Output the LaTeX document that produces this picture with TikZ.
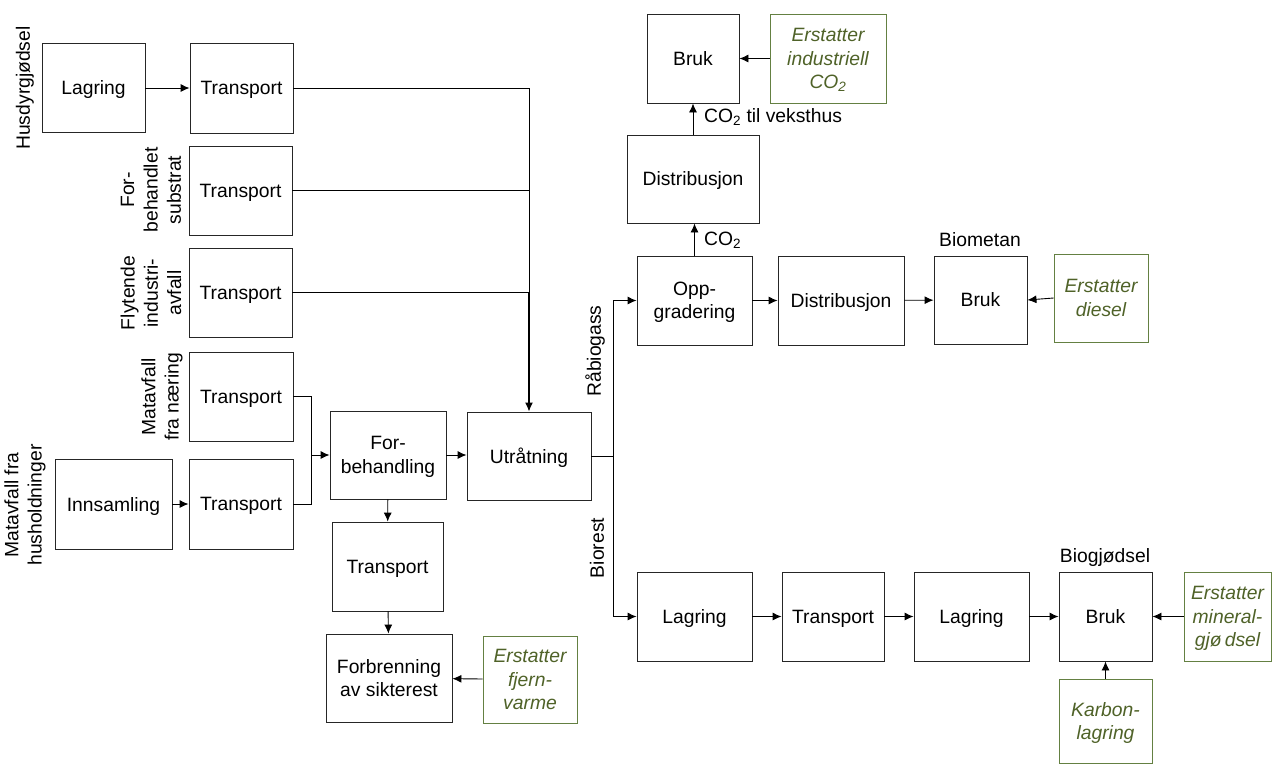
\documentclass[tikz,border=0pt]{standalone}
\usepackage{fontspec}
\setmainfont{Liberation Sans}
\usetikzlibrary{arrows.meta}
\definecolor{grtext}{RGB}{79,98,40}
\definecolor{grline}{RGB}{100,128,66}

\tikzset{
  lbl/.style={font=\fontsize{19.3}{23.3}\selectfont, inner sep=0pt, align=center},
  box/.style 2 args={lbl, draw=black!85, line width=0.9pt, text depth=0pt, minimum width=#1pt, minimum height=#2pt},
  gbox/.style 2 args={box={#1}{#2}, draw=grline, text=grtext, font=\fontsize{19.3}{23.3}\selectfont\itshape},
  vlbl/.style={lbl, rotate=90},
  conn/.style={draw=black, line width=0.9pt},
  arr/.style={conn, -{Latex[length=9pt,width=8pt]}}
}

\begin{document}
\begin{tikzpicture}[x=1pt,y=-1pt]
\useasboundingbox (0,0) rectangle (1272,764);

% --- feedstock chains
\node[box={103}{89}] (lag1) at (93.5,88) {Lagring};
\node[box={103}{90}] (tr1) at (241.5,88) {Transport};
\node[box={103}{89}] (tr2) at (240.5,190.5) {Transport};
\node[box={103}{89}] (tr3) at (240.5,292.5) {Transport};
\node[box={104}{89}] (tr4) at (241,396.5) {Transport};
\node[box={117}{90}] (inn) at (113.5,504) {Innsamling};
\node[box={104}{90}] (tr5) at (241,504) {Transport};

\node[vlbl] (lHus) at (25,88) {Husdyrgjødsel};
\node[vlbl] (lFor) at (151,190) {For-\\behandlet\\substrat};
\node[vlbl] (lFly) at (151,293) {Flytende\\industri-\\avfall};
\node[vlbl] (lMn) at (162,397) {Matavfall\\fra næring};
\node[vlbl] (lMh) at (25,505) {Matavfall fra\\husholdninger};

% --- pretreatment and digestion
\node[box={116}{88}] (forb) at (388,455) {For-\\behandling};
\node[box={124}{88}] (utr) at (529,456) {Utråtning};
\node[box={111}{89}] (trb) at (387.5,566.5) {Transport};
\node[box={126}{88}] (forbr) at (389,678) {Forbrenning\\av sikterest};
\node[gbox={94}{87}] (ersF) at (530,679.5) {Erstatter\\fjern-\\varme};

% --- gas branch
\node[box={92}{89}] (brukT) at (693,58.5) {Bruk};
\node[gbox={116}{89}] (ersI) at (828,58.5) {Erstatter\\industriell\\CO\textsubscript{2}};
\node[box={132}{88}] (distV) at (693,179) {Distribusjon};
\node[box={115}{89}] (opp) at (694.5,300.5) {Opp-\\gradering};
\node[box={126}{89}] (distH) at (841,300.5) {Distribusjon};
\node[box={93}{88}] (brukM) at (980.5,300) {Bruk};
\node[gbox={94}{88}] (ersD) at (1101,298) {Erstatter\\diesel};

% --- digestate branch
\node[box={115}{89}] (lagB) at (694.5,616.5) {Lagring};
\node[box={102}{89}] (trB) at (833,616.5) {Transport};
\node[box={115}{89}] (lagB2) at (971.5,616.5) {Lagring};
\node[box={93}{89}] (brukG) at (1105.5,616.5) {Bruk};
\node[gbox={87}{89}] (ersM) at (1227.5,616.5) {Erstatter\\mineral-\\gjø\,dsel};
\node[gbox={93}{84}] (karb) at (1105.5,721) {Karbon-\\lagring};

% --- labels
\node[vlbl] (lRaa) at (595,351) {Råbiogass};
\node[vlbl] (lBio) at (597,548) {Biorest};
\node[lbl] (lMet) at (980,240) {Biometan};
\node[lbl] (lGj) at (1105,557) {Biogjødsel};
\node[lbl, anchor=west] (lCO) at (704,240) {CO\textsubscript{2}};
\node[lbl, anchor=west] (lCOv) at (704,117) {CO\textsubscript{2} til veksthus};

% --- connectors
\coordinate (m1) at (311,455);
\coordinate (m2) at (613,456);
\coordinate (m3) at (utr.north |- tr3.east);

\draw[arr] (lag1) -- (tr1);
\draw[conn] (tr1.east) -| (m3);
\draw[conn] (tr2.east) -- (utr.north |- tr2.east);
\draw[conn] (tr3.east) -- (m3);
\draw[arr, line width=1.3pt] (m3) -- (utr.north);
\draw[arr] (inn) -- (tr5);
\draw[conn] (tr4.east) -| (m1);
\draw[conn] (tr5.east) -| (m1);
\draw[arr] (m1) -- (forb.west);
\draw[arr] (forb.east) -- (utr.west |- forb.east);
\draw[arr] (forb) -- (trb);
\draw[arr] (trb) -- (forbr);
\draw[arr] (ersF) -- (forbr);

\draw[conn] (utr.east) -- (m2);
\draw[arr] (m2) |- (opp.west);
\draw[arr] (m2) |- (lagB.west);

\draw[arr] (opp.north) -- (distV.south -| opp.north);
\draw[arr] (distV) -- (brukT);
\draw[arr] (ersI) -- (brukT);
\draw[arr] (opp) -- (distH);
\draw[arr] (distH) -- (brukM);
\draw[arr] (ersD.west) -- (brukM.east);

\draw[arr] (lagB) -- (trB);
\draw[arr] (trB) -- (lagB2);
\draw[arr] (lagB2) -- (brukG);
\draw[arr] (ersM) -- (brukG);
\draw[arr] (karb) -- (brukG);
\end{tikzpicture}
\end{document}
